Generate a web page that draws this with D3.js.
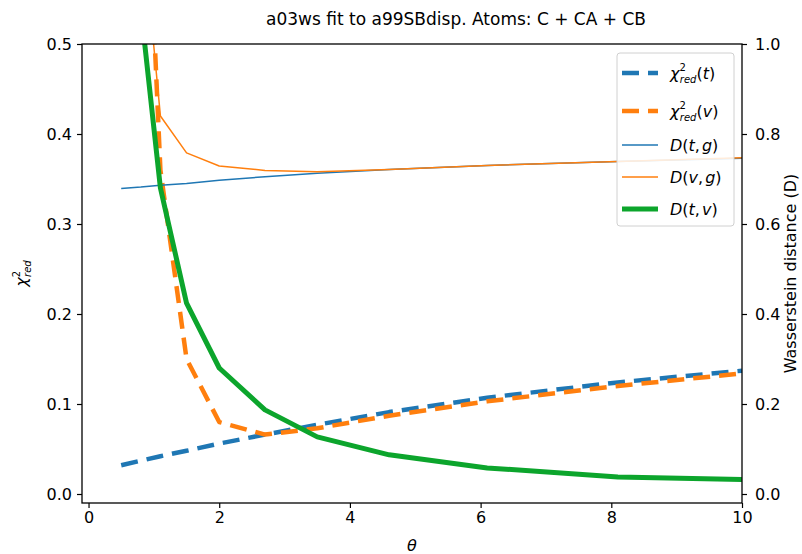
<!DOCTYPE html>
<html><head><meta charset="utf-8">
<script src="https://cdn.jsdelivr.net/npm/d3@7"></script>
<style>
html,body{margin:0;padding:0;background:#fff;}
text{font-family:"DejaVu Sans",sans-serif;fill:#000;}
</style></head>
<body>
<svg id="c" width="802" height="554"></svg>
<script>
// ---- data ----
const theta   = [0.5, 0.8, 1.1, 1.5, 2.0, 2.7, 3.5, 4.6, 6.1, 8.1, 10];
const chiRedT = [0.032, 0.037, 0.042, 0.048, 0.056, 0.066, 0.077, 0.091, 0.107, 0.124, 0.137];
const chiRedV = [1.5, 0.85, 0.36, 0.15, 0.080, 0.066, 0.073, 0.087, 0.103, 0.120, 0.134];
const dTG     = [0.679, 0.682, 0.686, 0.690, 0.697, 0.705, 0.713, 0.721, 0.730, 0.739, 0.746];
const dVG     = [1.6, 1.3, 0.840, 0.758, 0.729, 0.719, 0.716, 0.721, 0.730, 0.739, 0.747];
const dTV     = [1.7, 1.08, 0.68, 0.424, 0.280, 0.187, 0.127, 0.087, 0.058, 0.038, 0.032];
const xTicks  = [0, 2, 4, 6, 8, 10];
const yLeftTicks  = [0.0, 0.1, 0.2, 0.3, 0.4, 0.5];
const yRightTicks = [0.0, 0.2, 0.4, 0.6, 0.8, 1.0];
const title = "a03ws fit to a99SBdisp. Atoms: C + CA + CB";

const svg = d3.select("#c");
const L = 82, R = 742, T = 44, B = 503;
const x  = d3.scaleLinear().domain([-0.1, 10]).range([L, R]);
const yL = d3.scaleLinear().domain([-0.01, 0.5]).range([B, T]);
const yR = d3.scaleLinear().domain([-0.02, 1.0]).range([B, T]);

svg.append("defs").append("clipPath").attr("id","clip")
  .append("rect").attr("x",L).attr("y",T).attr("width",R-L).attr("height",B-T);

const C = {blue:"#1f77b4", orange:"#ff7f0e", green:"#0ca52c"};
const series = [
  {vals:chiRedT, y:yL, color:C.blue,   w:4.5, dash:"17,9"},
  {vals:chiRedV, y:yL, color:C.orange, w:4.5, dash:"17,9"},
  {vals:dTG,     y:yR, color:C.blue,   w:1.5, dash:null},
  {vals:dVG,     y:yR, color:C.orange, w:1.5, dash:null},
  {vals:dTV,     y:yR, color:C.green,  w:5,   dash:null}
];
const g = svg.append("g").attr("clip-path","url(#clip)");
series.forEach(s=>{
  const line = d3.line().x((d,i)=>x(theta[i])).y(d=>s.y(d));
  g.append("path").datum(s.vals).attr("d",line).attr("fill","none")
    .attr("stroke",s.color).attr("stroke-width",s.w)
    .attr("stroke-dasharray",s.dash).attr("stroke-linejoin","round");
});

// axes
const fs = 16;
const ax = svg.append("g").attr("transform",`translate(0,${B})`)
  .call(d3.axisBottom(x).tickValues(xTicks).tickFormat(d3.format("d")).tickSize(5).tickPadding(4));
const al = svg.append("g").attr("transform",`translate(${L},0)`)
  .call(d3.axisLeft(yL).tickValues(yLeftTicks).tickFormat(d3.format(".1f")).tickSize(5).tickPadding(5));
const ar = svg.append("g").attr("transform",`translate(${R},0)`)
  .call(d3.axisRight(yR).tickValues(yRightTicks).tickFormat(d3.format(".1f")).tickSize(5).tickPadding(8));
[ax,al,ar].forEach(a=>{
  a.select(".domain").remove();
  a.selectAll("line").attr("stroke","#000").attr("stroke-width",1.2);
  a.selectAll("text").attr("font-size",fs).attr("font-family","DejaVu Sans").attr("fill","#222");
});
svg.append("rect").attr("x",L).attr("y",T).attr("width",R-L).attr("height",B-T)
  .attr("fill","none").attr("stroke","#000").attr("stroke-width",1.3);

// title
svg.append("text").attr("x",456).attr("y",25).attr("text-anchor","middle")
  .attr("font-size",17).text(title);

// x label
svg.append("text").attr("x",(L+R)/2).attr("y",551).attr("text-anchor","middle")
  .attr("font-size",fs).attr("font-style","italic").text("θ");

// left y label
const yl = svg.append("text").attr("transform",`translate(27,${(T+B)/2}) rotate(-90)`)
  .attr("text-anchor","middle").attr("font-size",fs);
yl.append("tspan").attr("font-style","italic").text("χ");
yl.append("tspan").attr("font-size",10).attr("dy",-7).text("2");
yl.append("tspan").attr("font-size",10).attr("font-style","italic").attr("dx",-6).attr("dy",11).text("red");

// right y label
svg.append("text").attr("transform",`translate(796,${(T+B)/2}) rotate(-90)`)
  .attr("text-anchor","middle").attr("font-size",fs).text("Wasserstein distance (D)");

// legend
const lg = svg.append("g");
lg.append("rect").attr("x",617).attr("y",53).attr("width",117).attr("height",173)
  .attr("rx",3).attr("fill","#fff").attr("fill-opacity",0.85).attr("stroke","#d0d0d0");
const items = [
  {type:"chi", arg:"t", color:C.blue,   w:4.5, dash:"17,9", y:73},
  {type:"chi", arg:"v", color:C.orange, w:4.5, dash:"17,9", y:111},
  {type:"D",   arg:["t","g"], color:C.blue,   w:1.5, dash:null, y:145},
  {type:"D",   arg:["v","g"], color:C.orange, w:1.5, dash:null, y:177},
  {type:"D",   arg:["t","v"], color:C.green,  w:5,   dash:null, y:209}
];
items.forEach(it=>{
  lg.append("line").attr("x1",622).attr("x2",658).attr("y1",it.y).attr("y2",it.y)
    .attr("stroke",it.color).attr("stroke-width",it.w).attr("stroke-dasharray",it.dash);
  const t = lg.append("text").attr("x",670).attr("y",it.y+6).attr("font-size",fs);
  if(it.type==="chi"){
    t.append("tspan").attr("font-style","italic").text("χ");
    t.append("tspan").attr("font-size",10).attr("dy",-8).text("2");
    t.append("tspan").attr("font-size",10).attr("font-style","italic").attr("dx",-6).attr("dy",12).text("red");
    t.append("tspan").attr("dy",-4).text("(");
    t.append("tspan").attr("font-style","italic").text(it.arg);
    t.append("tspan").text(")");
  } else {
    t.append("tspan").attr("font-style","italic").text("D");
    t.append("tspan").text("(");
    t.append("tspan").attr("font-style","italic").text(it.arg[0]);
    t.append("tspan").text(",");
    t.append("tspan").attr("font-style","italic").attr("dx",2).text(it.arg[1]);
    t.append("tspan").text(")");
  }
});
</script>
</body></html>
